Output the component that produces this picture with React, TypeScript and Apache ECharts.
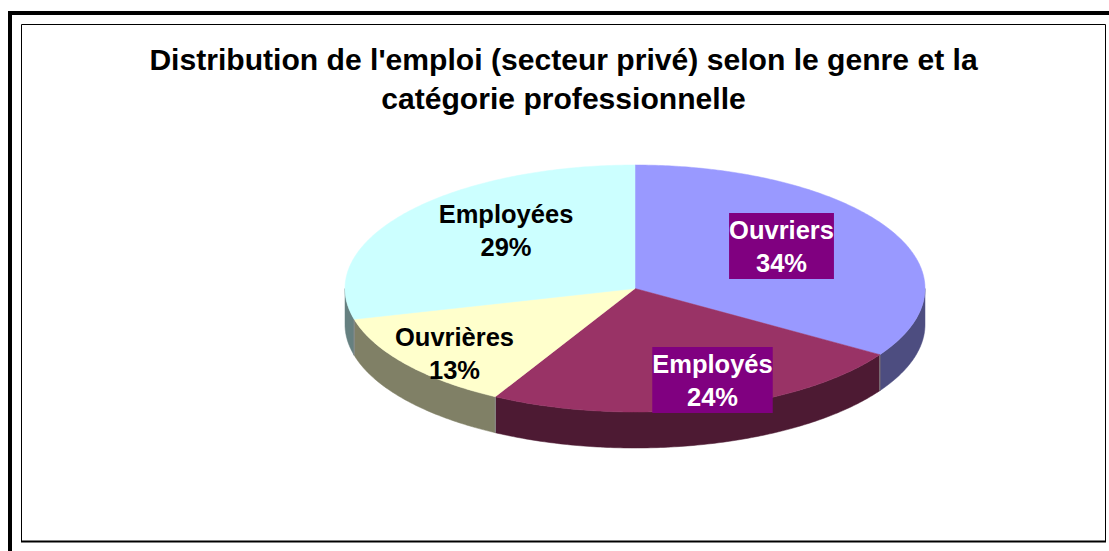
import React, { useEffect, useRef } from "react";
import * as echarts from "echarts";

const categories = ["Ouvriers", "Employés", "Ouvrières", "Employées"];
const shares = [34, 24, 13, 29];
const topColors = ["#9999FF", "#993366", "#FFFFCC", "#CCFFFF"];
const sideColors = ["#4D4D80", "#4D1A33", "#808066", "#668080"];
const labelColors = ["#FFFFFF", "#FFFFFF", "#000000", "#000000"];
const labelBackgrounds = ["#800080", "#800080", "transparent", "transparent"];
const labelCenters = [[781.5, 246], [712.5, 380], [454.5, 353.5], [506, 230]];
const titleLines = ["Distribution de l'emploi (secteur privé) selon le genre et la", "catégorie professionnelle"];

const CX = 635, CY = 288.5, RX = 290, RY = 123.5, DEPTH = 36;
const total = shares.reduce((a, b) => a + b, 0);
const startOf = (i: number) => (shares.slice(0, i).reduce((a, b) => a + b, 0) / total) * 360;
const rim = (deg: number, dy = 0): number[] => {
  const t = (deg * Math.PI) / 180;
  return [CX + RX * Math.sin(t), CY - RY * Math.cos(t) + dy];
};
const arc = (a: number, b: number, dy = 0): number[][] => {
  const n = Math.max(2, Math.ceil((b - a) * 1.5));
  const pts: number[][] = [];
  for (let k = 0; k <= n; k++) pts.push(rim(a + ((b - a) * k) / n, dy));
  return pts;
};

export default function App() {
  const ref = useRef<HTMLDivElement>(null);
  useEffect(() => {
    document.body.style.margin = "0";
    const chart = echarts.init(ref.current!, null, { renderer: "svg" });
    const data = categories.map((name, i) => ({ name, value: [i, shares[i]] }));
    chart.setOption({
      animation: false,
      backgroundColor: "#FFFFFF",
      title: {
        text: titleLines.join("\n"),
        left: 558.5,
        top: 35,
        textAlign: "center",
        textStyle: {
          fontFamily: "Liberation Sans",
          fontWeight: "bold",
          fontSize: 30.1,
          lineHeight: 39,
          color: "#000000",
        },
      },
      graphic: [
        { type: "rect", shape: { x: 8, y: 11, width: 1101, height: 4 }, style: { fill: "#000" } },
        { type: "rect", shape: { x: 8, y: 11, width: 4, height: 540 }, style: { fill: "#000" } },
        { type: "rect", shape: { x: 21.5, y: 24.5, width: 1084, height: 517 }, style: { fill: "none", stroke: "#000", lineWidth: 1 } },
        { type: "line", shape: { x1: 21, y1: 541.5, x2: 1106, y2: 541.5 }, style: { stroke: "#000", lineWidth: 2 } },
      ],
      series: [
        {
          type: "custom",
          coordinateSystem: "none",
          z: 2,
          data,
          renderItem: (_: any, api: any) => {
            const i = api.value(0);
            const a = startOf(i);
            const b = a + (api.value(1) / total) * 360;
            const lo = Math.max(a, 90), hi = Math.min(b, 270);
            if (hi <= lo) return { type: "group", children: [] };
            const points = [...arc(lo, hi), ...arc(lo, hi, DEPTH).reverse()];
            const children: any[] = [
              { type: "polygon", shape: { points }, style: { fill: sideColors[i], stroke: sideColors[i], lineWidth: 0.5 } },
            ];
            if (a > 90 && a < 270) {
              const p = rim(a);
              children.push({
                type: "line",
                shape: { x1: p[0], y1: p[1], x2: p[0], y2: p[1] + DEPTH },
                style: { stroke: "#8C8C8C", lineWidth: 1 },
                z2: 5,
              });
            }
            return { type: "group", children };
          },
        },
        {
          type: "custom",
          coordinateSystem: "none",
          z: 3,
          data,
          renderItem: (_: any, api: any) => {
            const i = api.value(0);
            const a = startOf(i);
            const b = a + (api.value(1) / total) * 360;
            return {
              type: "polygon",
              shape: { points: [[CX, CY], ...arc(a, b)] },
              style: { fill: topColors[i], stroke: topColors[i], lineWidth: 0.5 },
            };
          },
        },
        {
          type: "custom",
          coordinateSystem: "none",
          z: 4,
          data,
          renderItem: (_: any, api: any) => {
            const i = api.value(0);
            return {
              type: "text",
              x: labelCenters[i][0],
              y: labelCenters[i][1],
              style: {
                text: `${categories[i]}\n${api.value(1)}%`,
                font: "bold 25.5px 'Liberation Sans'",
                lineHeight: 33,
                align: "center",
                verticalAlign: "middle",
                fill: labelColors[i],
                backgroundColor: labelBackgrounds[i],
              },
            };
          },
        },
      ],
    });
    return () => chart.dispose();
  }, []);
  return <div ref={ref} style={{ position: "absolute", left: 0, top: 0, width: 1109, height: 551 }} />;
}
